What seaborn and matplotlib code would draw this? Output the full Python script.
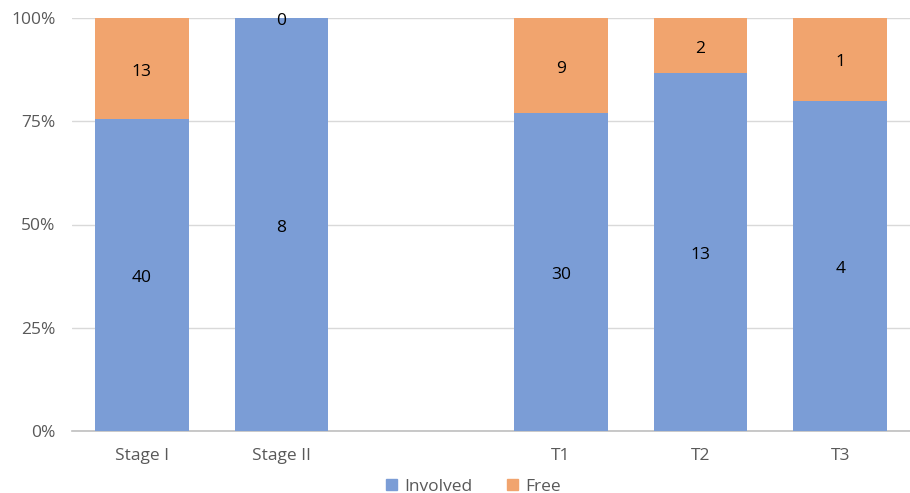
import matplotlib
matplotlib.use("Agg")
import matplotlib.pyplot as plt
import seaborn as sns
import pandas as pd
from matplotlib.patches import Patch

categories = ["Stage I", "Stage II", " ", "T1", "T2", "T3"]
data_cats = ["Stage I", "Stage II", "T1", "T2", "T3"]
involved = [40, 8, 30, 13, 4]
free = [13, 0, 9, 2, 1]
yticks = [0, 25, 50, 75, 100]
ytick_labels = ["0%", "25%", "50%", "75%", "100%"]

blue = "#7B9DD6"
orange = "#F1A46E"

sns.set_theme(style="white")
plt.rcParams["font.family"] = ["Open Sans", "DejaVu Sans"]

df = pd.DataFrame({"cat": data_cats, "inv": involved, "free": free})
df["total"] = df["inv"] + df["free"]
df["inv_pct"] = df["inv"] / df["total"] * 100
df["all_pct"] = 100.0

fig = plt.figure(figsize=(9.10, 4.93), dpi=100)
ax = fig.add_axes([72 / 910, 1 - 431 / 493, 838 / 910, 413 / 493])

sns.barplot(data=df, x="cat", y="all_pct", order=categories, color=orange,
            width=0.67, saturation=1, ax=ax, zorder=2, linewidth=0)
sns.barplot(data=df, x="cat", y="inv_pct", order=categories, color=blue,
            width=0.67, saturation=1, ax=ax, zorder=3, linewidth=0)

for i, row in df.iterrows():
    xi = categories.index(row["cat"])
    ax.annotate(f"{row['inv']}", (xi, row["inv_pct"] / 2), xytext=(0, -3),
                textcoords="offset pixels", ha="center", va="center",
                fontsize=12.5, color="#000000", zorder=5)
    ax.annotate(f"{row['free']}", (xi, (row["inv_pct"] + 100) / 2), xytext=(0, -3),
                textcoords="offset pixels", ha="center", va="center",
                fontsize=12.5, color="#000000", zorder=5)

ax.set_ylim(0, 100)
ax.set_xlim(-0.5, len(categories) - 0.5)
ax.set_yticks(yticks)
ax.set_yticklabels(ytick_labels)
ax.set_xlabel("")
ax.set_ylabel("")
ax.yaxis.grid(True, color="#D9D9D9", linewidth=1, zorder=0)
ax.set_axisbelow(True)
for s in ["top", "right", "left"]:
    ax.spines[s].set_visible(False)
ax.spines["bottom"].set_color("#BFBFBF")
ax.spines["bottom"].set_linewidth(1.2)
ax.tick_params(axis="both", length=0, labelsize=12.5, labelcolor="#595959")
ax.tick_params(axis="x", pad=12)
ax.tick_params(axis="y", pad=12)

handles = [Patch(color=blue, label="Involved"), Patch(color=orange, label="Free")]
fig.legend(handles=handles, loc="lower center", bbox_to_anchor=(0.52, -0.035), ncol=2,
           frameon=False, fontsize=12.5, handlelength=0.65, handleheight=0.65,
           handletextpad=0.4, columnspacing=2.0, labelcolor="#595959")

fig.savefig("out.png", dpi=100)
